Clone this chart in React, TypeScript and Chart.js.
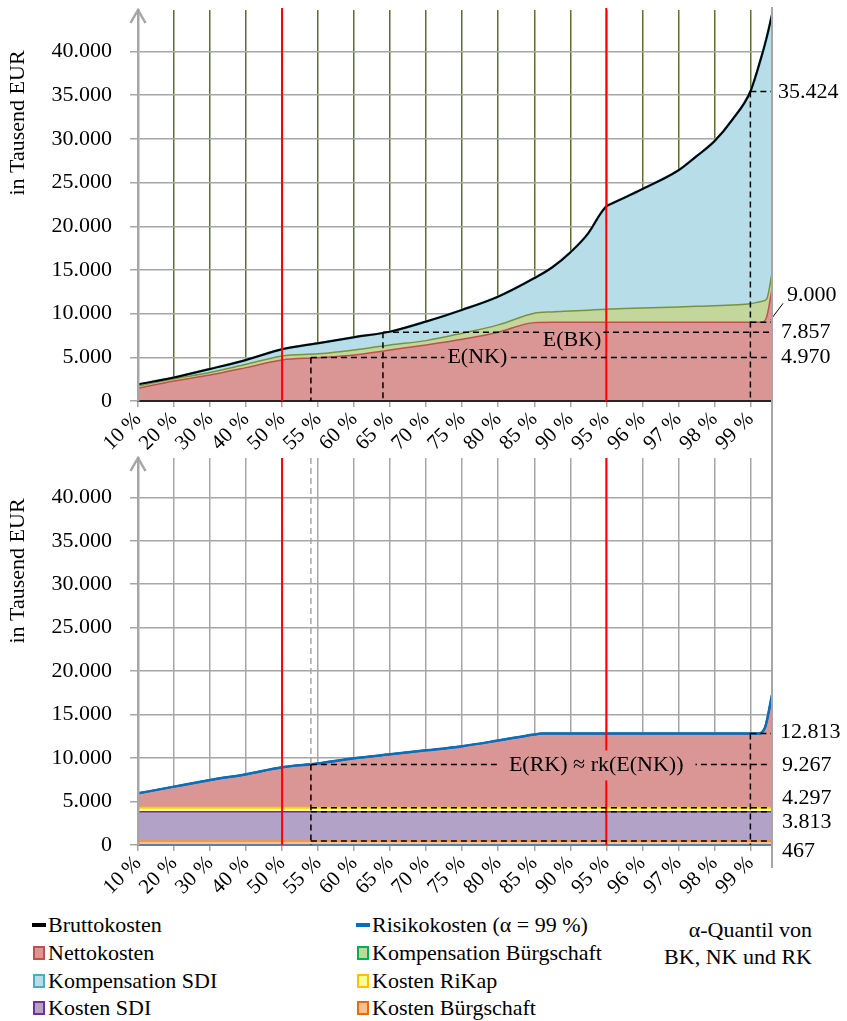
import React, { useEffect, useRef } from 'react';
import { Chart, registerables } from 'chart.js';

Chart.register(...registerables);

const FONT = "'Liberation Serif', 'Times New Roman', Times, serif";

// x tick labels (quantile levels), drawn at positions 0..17 of a linear index axis
const quantileLabels = ['10 %', '20 %', '30 %', '40 %', '50 %', '55 %', '60 %', '65 %', '70 %', '75 %', '80 %', '85 %', '90 %', '95 %', '96 %', '97 %', '98 %', '99 %'];
const axisEnd = 17.6;
const yTickValues = [0, 5000, 10000, 15000, 20000, 25000, 30000, 35000, 40000];

// ---- top chart (Bruttokosten = Nettokosten + Kompensation Bürgschaft + Kompensation SDI)
const topPositions = [0, 1, 2, 3, 4, 5, 6, 7, 8, 9, 10, 11, 11.5, 12, 12.5, 12.85, 13, 13.15, 14, 15, 15.5, 16, 16.5, 17, 17.3, 17.45, 17.6];
const topNettokosten = [1450, 2300, 2980, 3820, 4700, 4950, 5270, 5840, 6420, 7070, 7870, 8970, 9000, 9000, 9000, 9000, 9000, 9000, 9000, 9000, 9000, 9000, 9000, 9000, 9000, 9600, 12800];
const topKompBuergschaft = [250, 250, 270, 380, 460, 450, 570, 580, 490, 690, 840, 1080, 1200, 1300, 1400, 1480, 1510, 1530, 1650, 1760, 1830, 1900, 2000, 2120, 2400, 2050, 1830];
const topKompSDI = [200, 150, 420, 500, 760, 1210, 1460, 1520, 2180, 2670, 3240, 4010, 5100, 6700, 8800, 11020, 11760, 12050, 13600, 15630, 17170, 18820, 21200, 24304, 27900, 29910, 29570];
const topBruttokosten = [1900, 2700, 3670, 4700, 5920, 6610, 7300, 7940, 9090, 10430, 11950, 14060, 15300, 17000, 19200, 21500, 22270, 22580, 24250, 26390, 28000, 29720, 32200, 35424, 39300, 41560, 44200];

// ---- bottom chart (Risikokosten = Kosten Bürgschaft + Kosten SDI + Kosten RiKap + Nettokosten)
const botPositions = [0, 1, 2, 3, 4, 5, 6, 7, 8, 9, 10, 11, 11.2, 17, 17.2, 17.4, 17.6];
const botKostenBuergschaft = [467, 467, 467, 467, 467, 467, 467, 467, 467, 467, 467, 467, 467, 467, 467, 467, 467];
const botKostenSDI = [3346, 3346, 3346, 3346, 3346, 3346, 3346, 3346, 3346, 3346, 3346, 3346, 3346, 3346, 3346, 3346, 3346];
const botKostenRiKap = [484, 484, 484, 484, 484, 484, 484, 484, 484, 484, 484, 484, 484, 484, 484, 484, 484];
const botNettokosten = [1643, 2418, 3173, 3853, 4653, 5083, 5683, 6133, 6593, 7073, 7723, 8413, 8516, 8516, 8516, 9153, 12963];
const botRisikokosten = [5940, 6715, 7470, 8150, 8950, 9380, 9980, 10430, 10890, 11370, 12020, 12710, 12813, 12813, 12813, 13450, 17260];

// ---- reference marks
const redLinePositions = [4, 13];
const alphaPosition = 17;
const topExpected = [4970, 7857]; // E(NK), E(BK)
const topExpectedPositions = [4.8, 6.8];
const topQuantiles = [35424, 9000]; // alpha-quantile BK, NK
const botExpectedPosition = 4.8;
const botRiskQuantile = 12813;
const botExpectedRisk = 9267;
const botLevels = [4297, 3813, 467];

const fmt = (v: number) => String(Math.round(v)).replace(/\B(?=(\d{3})+(?!\d))/g, '.');

const legendCol1 = ['Bruttokosten', 'Nettokosten', 'Kompensation SDI', 'Kosten SDI'];
const legendCol2 = ['Risikokosten (α = 99 %)', 'Kompensation Bürgschaft', 'Kosten RiKap', 'Kosten Bürgschaft'];
const legendNote = ['α-Quantil von', 'BK, NK und RK'];

const STYLE: Record<string, { kind: 'line' | 'box'; fill: string; border: string }> = {
  'Bruttokosten': { kind: 'line', fill: '#000000', border: '#000000' },
  'Risikokosten (α = 99 %)': { kind: 'line', fill: '#0070c0', border: '#0070c0' },
  'Nettokosten': { kind: 'box', fill: '#d99694', border: '#c0504d' },
  'Kompensation Bürgschaft': { kind: 'box', fill: '#c3d69b', border: '#00b050' },
  'Kompensation SDI': { kind: 'box', fill: '#b7dee8', border: '#4bacc6' },
  'Kosten RiKap': { kind: 'box', fill: '#ffff99', border: '#ffc000' },
  'Kosten SDI': { kind: 'box', fill: '#b3a2c7', border: '#7030a0' },
  'Kosten Bürgschaft': { kind: 'box', fill: '#fac090', border: '#e46c0a' },
};

const GRAY = '#a6a6a6';
const PINK = '#d99694';

function seg(ctx: any, x1: number, y1: number, x2: number, y2: number, color: string, width: number, dash?: number[]) {
  ctx.save();
  ctx.strokeStyle = color;
  ctx.lineWidth = width;
  ctx.setLineDash(dash || []);
  ctx.beginPath();
  ctx.moveTo(x1, y1);
  ctx.lineTo(x2, y2);
  ctx.stroke();
  ctx.restore();
}
const DASH = [6, 4];
function label(ctx: any, s: string, x: number, y: number, align = 'left') {
  ctx.save();
  ctx.font = `22px ${FONT}`;
  ctx.fillStyle = '#000';
  ctx.textAlign = align;
  ctx.textBaseline = 'middle';
  ctx.fillText(s, x, y);
  ctx.restore();
}
function boxLabel(ctx: any, s: string, cx: number, cy: number, padX: number, h: number) {
  ctx.save();
  ctx.font = `22px ${FONT}`;
  const w = ctx.measureText(s).width;
  ctx.fillStyle = PINK;
  ctx.fillRect(cx - w / 2 - padX, cy - h / 2, w + 2 * padX, h);
  ctx.restore();
  label(ctx, s, cx, cy, 'center');
}
function frame(chart: any, lineTop: number, lineBottom: number) {
  const { ctx, chartArea: ca } = chart;
  ctx.save();
  ctx.strokeStyle = GRAY;
  ctx.lineWidth = 2.5;
  ctx.beginPath();
  ctx.moveTo(ca.left - 7.5, ca.top + 13);
  ctx.lineTo(ca.left, ca.top);
  ctx.lineTo(ca.left + 7.5, ca.top + 13);
  ctx.stroke();
  ctx.restore();
  seg(ctx, ca.right, lineTop, ca.right, lineBottom, GRAY, 2);
  ctx.save();
  ctx.translate(18, ca.top + 113);
  ctx.rotate(-Math.PI / 2);
  ctx.font = `22px ${FONT}`;
  ctx.fillStyle = '#000';
  ctx.textAlign = 'center';
  ctx.textBaseline = 'middle';
  ctx.fillText('in Tausend EUR', 0, 0);
  ctx.restore();
}

const topPlugin = {
  id: 'topMarks',
  afterDraw(chart: any) {
    const { ctx, chartArea: ca, scales } = chart;
    const x = scales.x, y = scales.y;
    redLinePositions.forEach((p) => {
      const px = x.getPixelForValue(p);
      seg(ctx, px, ca.top - 2, px, ca.bottom, '#ff0000', 2);
    });
    const xa = x.getPixelForValue(alphaPosition);
    topExpected.forEach((v, i) => {
      const px = x.getPixelForValue(topExpectedPositions[i]);
      const py = y.getPixelForValue(v);
      seg(ctx, px, py, ca.right, py, '#000', 1.5, DASH);
      seg(ctx, px, py, px, ca.bottom, '#000', 1.5, DASH);
    });
    const yq = y.getPixelForValue(topQuantiles[0]);
    const yn = y.getPixelForValue(topQuantiles[1]);
    seg(ctx, xa, yq, xa, ca.bottom, '#000', 1.5, DASH);
    seg(ctx, xa, yq, ca.right, yq, '#000', 1.5, DASH);
    seg(ctx, xa, yn, ca.right, yn, '#000', 1.5, DASH);
    const yNK = y.getPixelForValue(topExpected[0]);
    const yBK = y.getPixelForValue(topExpected[1]);
    boxLabel(ctx, 'E(NK)', x.getPixelForValue(9.42), yNK, 3, 24);
    boxLabel(ctx, 'E(BK)', x.getPixelForValue(12.05), yBK + 8, 2, 22);
    label(ctx, fmt(topQuantiles[0]), ca.right + 6, yq + 1);
    label(ctx, fmt(topQuantiles[1]), ca.right + 15, yn - 27);
    seg(ctx, ca.right - 1, yn - 3, ca.right + 11, yn - 19, '#000', 1);
    label(ctx, fmt(topExpected[1]), ca.right + 9, yBK);
    label(ctx, fmt(topExpected[0]), ca.right + 9, yNK);
    frame(chart, ca.top - 3, 450);
  },
};

const botPlugin = {
  id: 'botMarks',
  afterDraw(chart: any) {
    const { ctx, chartArea: ca, scales } = chart;
    const x = scales.x, y = scales.y;
    redLinePositions.forEach((p) => {
      const px = x.getPixelForValue(p);
      seg(ctx, px, ca.top, px, ca.bottom, '#ff0000', 2);
    });
    const xe = x.getPixelForValue(botExpectedPosition);
    const xa = x.getPixelForValue(alphaPosition);
    const yr = y.getPixelForValue(botExpectedRisk);
    const yq = y.getPixelForValue(botRiskQuantile);
    seg(ctx, xe, ca.top, xe, yr, GRAY, 1.5, DASH);
    seg(ctx, xe, yr, xe, ca.bottom, '#000', 1.5, DASH);
    seg(ctx, xe, yr, ca.right, yr, '#000', 1.5, DASH);
    botLevels.forEach((v) => {
      const py = y.getPixelForValue(v);
      seg(ctx, xe, py, ca.right, py, '#000', 1.5, DASH);
    });
    seg(ctx, xa, yq, xa, ca.bottom, '#000', 1.5, DASH);
    seg(ctx, xa, yq, ca.right, yq, '#000', 1.5, DASH);
    boxLabel(ctx, 'E(RK) ≈ rk(E(NK))', x.getPixelForValue(12.72), yr + 1, 12, 30);
    label(ctx, fmt(botRiskQuantile), ca.right + 8, yq - 1);
    label(ctx, fmt(botExpectedRisk), ca.right + 10, yr + 1);
    label(ctx, fmt(botLevels[0]), ca.right + 10, y.getPixelForValue(botLevels[0]) - 9);
    label(ctx, fmt(botLevels[1]), ca.right + 10, y.getPixelForValue(botLevels[1]) + 10);
    label(ctx, fmt(botLevels[2]), ca.right + 10, y.getPixelForValue(botLevels[2]) + 10);
    frame(chart, 0, 418);
  },
};

const pts = (xs: number[], ys: number[]) => xs.map((x, i) => ({ x, y: ys[i] }));

function xScale(gridColor: string, axisColor: string, height: number) {
  return {
    type: 'linear',
    min: 0,
    max: axisEnd,
    afterBuildTicks: (s: any) => {
      s.ticks = quantileLabels.map((_, i) => ({ value: i }));
    },
    ticks: {
      autoSkip: false,
      maxRotation: 45,
      minRotation: 45,
      padding: 0,
      color: '#000',
      font: { family: FONT, size: 21 },
      callback: (v: number) => quantileLabels[v] ?? '',
    },
    grid: {
      color: (c: any) => (c.tick && c.tick.value === 0 ? 'rgba(0,0,0,0)' : gridColor),
      lineWidth: 1.5,
      tickLength: 6,
      tickColor: GRAY,
    },
    border: { color: axisColor, width: 2, z: 1 },
    afterFit: (s: any) => {
      s.height = height;
      s.paddingLeft = 0;
      s.paddingRight = 0;
    },
  };
}
function yScale(max: number) {
  return {
    type: 'linear',
    stacked: true,
    min: 0,
    max,
    afterBuildTicks: (s: any) => {
      s.ticks = yTickValues.map((v) => ({ value: v }));
    },
    ticks: {
      padding: 18,
      color: '#000',
      font: { family: FONT, size: 22 },
      callback: (v: number) => fmt(v),
    },
    grid: { color: GRAY, lineWidth: 1.5, tickLength: 8 },
    border: { color: GRAY, width: 2.5, z: 1 },
    afterFit: (s: any) => {
      s.width = 138;
      s.paddingTop = 0;
      s.paddingBottom = 0;
    },
  };
}

const smooth = { cubicInterpolationMode: 'monotone', pointRadius: 0 };

function topConfig(): any {
  return {
    type: 'line',
    data: {
      datasets: [
        { label: 'Nettokosten', data: pts(topPositions, topNettokosten), stack: 'area', order: 1, fill: 'origin', backgroundColor: '#d99694', borderColor: '#c0504d', borderWidth: 1.5, ...smooth },
        { label: 'Kompensation Bürgschaft', data: pts(topPositions, topKompBuergschaft), stack: 'area', order: 1, fill: '-1', backgroundColor: '#c3d69b', borderColor: '#77933c', borderWidth: 1.5, ...smooth },
        { label: 'Kompensation SDI', data: pts(topPositions, topKompSDI), stack: 'area', order: 1, fill: '-1', backgroundColor: '#b7dee8', borderColor: '#4bacc6', borderWidth: 2.5, ...smooth },
        { label: 'Bruttokosten', data: pts(topPositions, topBruttokosten), stack: 'total', order: 0, fill: false, borderColor: '#000000', borderWidth: 2, ...smooth },
      ],
    },
    options: {
      animation: false,
      responsive: false,
      layout: { padding: { left: 0, right: 75, top: 10, bottom: 0 } },
      plugins: { legend: { display: false }, tooltip: { enabled: false } },
      scales: { x: xScale('#5c6f2e', '#262626', 49), y: yScale(44750) },
    },
    plugins: [topPlugin],
  };
}

function botConfig(): any {
  return {
    type: 'line',
    data: {
      datasets: [
        { label: 'Kosten Bürgschaft', data: pts(botPositions, botKostenBuergschaft), stack: 'area', order: 1, fill: 'origin', backgroundColor: '#fac090', borderColor: '#f79646', borderWidth: 2, pointRadius: 0 },
        { label: 'Kosten SDI', data: pts(botPositions, botKostenSDI), stack: 'area', order: 1, fill: '-1', backgroundColor: '#b3a2c7', borderColor: '#7030a0', borderWidth: 1.5, pointRadius: 0 },
        { label: 'Kosten RiKap', data: pts(botPositions, botKostenRiKap), stack: 'area', order: 1, fill: '-1', backgroundColor: '#ffff99', borderColor: '#ffd000', borderWidth: 2, pointRadius: 0 },
        { label: 'Nettokosten', data: pts(botPositions, botNettokosten), stack: 'area', order: 1, fill: '-1', backgroundColor: '#d99694', borderColor: '#953735', borderWidth: 2, ...smooth },
        { label: 'Risikokosten (α = 99 %)', data: pts(botPositions, botRisikokosten), stack: 'total', order: 0, fill: false, borderColor: '#0070c0', borderWidth: 2.5, ...smooth },
      ],
    },
    options: {
      animation: false,
      responsive: false,
      layout: { padding: { left: 0, right: 75, top: 8, bottom: 0 } },
      plugins: { legend: { display: false }, tooltip: { enabled: false } },
      scales: { x: xScale(GRAY, '#5a7fa8', 55), y: yScale(44520) },
    },
    plugins: [botPlugin],
  };
}

function LegendItem({ text, left, cy }: { text: string; left: number; cy: number }) {
  const st = STYLE[text];
  const marker =
    st.kind === 'line' ? (
      <span style={{ display: 'inline-block', width: 14, height: 4, background: st.fill, marginRight: 2 }} />
    ) : (
      <span style={{ display: 'inline-block', boxSizing: 'border-box', width: 12, height: 14, background: st.fill, border: `2px solid ${st.border}`, marginLeft: 1, marginRight: 3 }} />
    );
  return (
    <div style={{ position: 'absolute', left, top: cy - 13, height: 26, display: 'flex', alignItems: 'center', fontSize: 22, lineHeight: '26px', whiteSpace: 'nowrap', color: '#000' }}>
      {marker}
      <span>{text}</span>
    </div>
  );
}

export default function App() {
  const topRef = useRef<HTMLCanvasElement | null>(null);
  const botRef = useRef<HTMLCanvasElement | null>(null);
  useEffect(() => {
    const c1 = new Chart(topRef.current as HTMLCanvasElement, topConfig());
    const c2 = new Chart(botRef.current as HTMLCanvasElement, botConfig());
    return () => {
      c1.destroy();
      c2.destroy();
    };
  }, []);
  const rowY = [925, 953, 981, 1008];
  return (
    <div style={{ position: 'absolute', left: 0, top: 0, width: 847, height: 1021, background: '#fff', fontFamily: FONT, overflow: 'hidden' }}>
      <canvas ref={topRef} width={847} height={450} style={{ position: 'absolute', left: 0, top: 0, width: 847, height: 450 }} />
      <canvas ref={botRef} width={847} height={450} style={{ position: 'absolute', left: 0, top: 450, width: 847, height: 450 }} />
      {legendCol1.map((t, i) => (
        <LegendItem key={t} text={t} left={32} cy={rowY[i]} />
      ))}
      {legendCol2.map((t, i) => (
        <LegendItem key={t} text={t} left={356} cy={rowY[i]} />
      ))}
      {legendNote.map((t, i) => (
        <div key={t} style={{ position: 'absolute', right: 35, top: 930 - 13 + i * 27, height: 26, lineHeight: '26px', fontSize: 22, textAlign: 'right', whiteSpace: 'nowrap', color: '#000' }}>
          {t}
        </div>
      ))}
    </div>
  );
}
